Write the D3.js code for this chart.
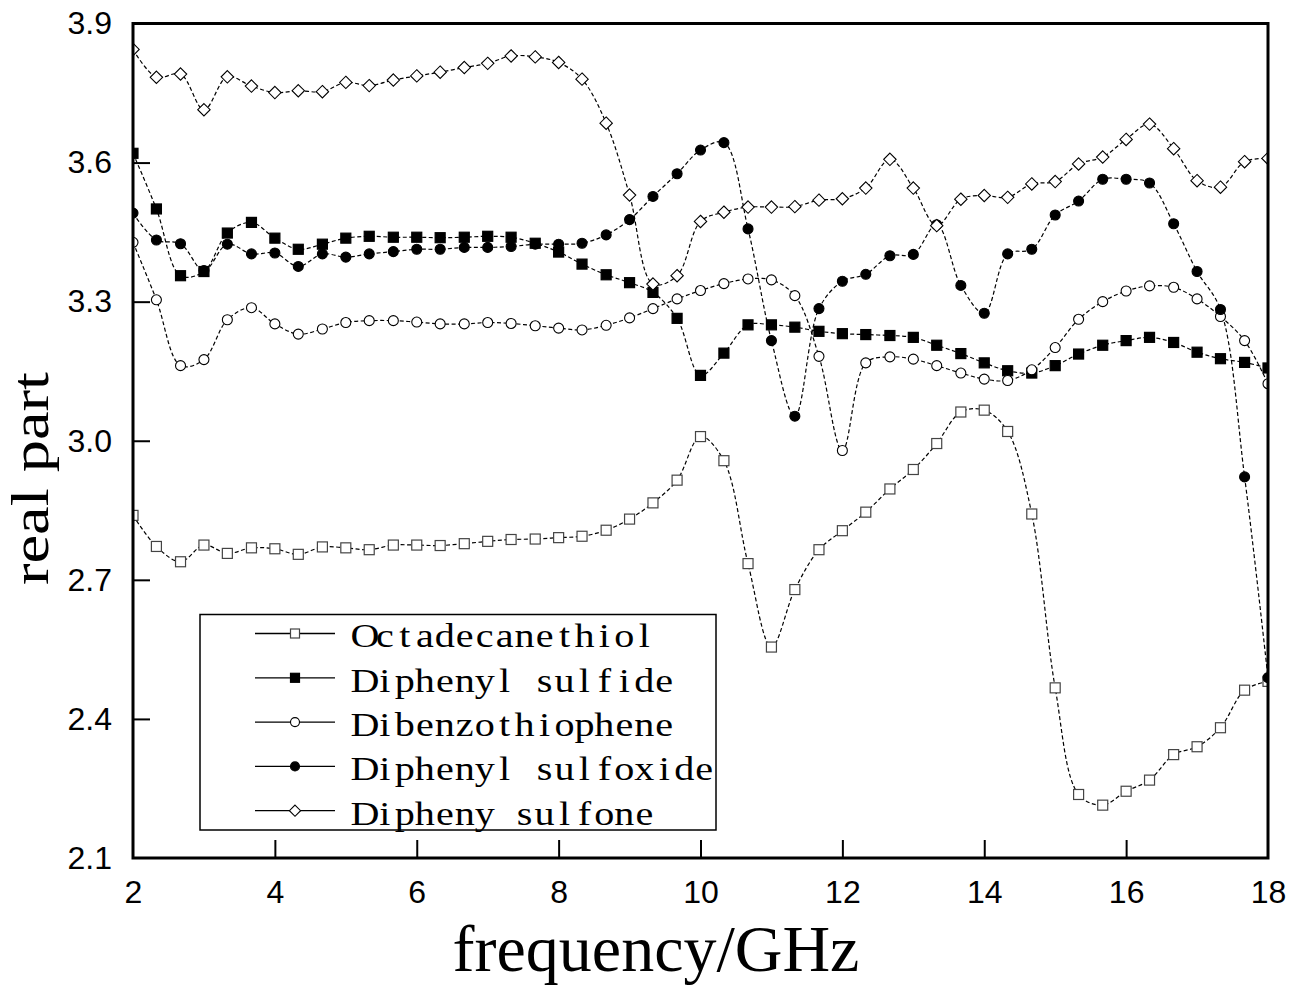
<!DOCTYPE html>
<html>
<head>
<meta charset="utf-8">
<script src="https://cdn.jsdelivr.net/npm/d3@7"></script>
<style>
  html, body { margin: 0; padding: 0; background: #fff; }
  svg { display: block; }
</style>
</head>
<body>
<svg id="chart" width="1302" height="986"></svg>
<script>
// ---------------- data ----------------
const freq = [2,2.33,2.67,3,3.33,3.67,4,4.33,4.67,5,5.33,5.67,6,6.33,6.67,7,7.33,7.67,8,8.33,8.67,9,9.33,9.67,10,10.33,10.67,11,11.33,11.67,12,12.33,12.67,13,13.33,13.67,14,14.33,14.67,15,15.33,15.67,16,16.33,16.67,17,17.33,17.67,18];

const octadecanethiol = [2.839,2.772,2.739,2.775,2.757,2.769,2.767,2.755,2.771,2.769,2.765,2.775,2.775,2.774,2.778,2.783,2.787,2.788,2.791,2.794,2.807,2.831,2.866,2.915,3.009,2.957,2.735,2.555,2.679,2.765,2.806,2.846,2.896,2.938,2.994,3.062,3.066,3.020,2.842,2.467,2.237,2.214,2.244,2.268,2.323,2.340,2.381,2.462,2.481];

const diphenylSulfide = [3.620,3.500,3.356,3.365,3.448,3.471,3.437,3.413,3.424,3.437,3.441,3.439,3.439,3.438,3.439,3.441,3.439,3.426,3.407,3.381,3.358,3.341,3.320,3.264,3.141,3.189,3.250,3.250,3.245,3.236,3.231,3.229,3.227,3.223,3.206,3.188,3.168,3.151,3.146,3.162,3.187,3.206,3.216,3.223,3.212,3.191,3.177,3.169,3.157];

const dibenzothiophene = [3.428,3.304,3.162,3.175,3.261,3.287,3.252,3.230,3.241,3.255,3.259,3.259,3.256,3.252,3.252,3.255,3.253,3.248,3.243,3.239,3.249,3.265,3.285,3.306,3.324,3.339,3.349,3.347,3.313,3.182,2.979,3.168,3.181,3.176,3.162,3.146,3.133,3.130,3.153,3.201,3.262,3.300,3.323,3.334,3.331,3.306,3.268,3.216,3.123];

const diphenylSulfoxide = [3.491,3.433,3.425,3.367,3.424,3.403,3.405,3.376,3.403,3.396,3.403,3.408,3.413,3.413,3.417,3.417,3.419,3.424,3.424,3.426,3.444,3.477,3.527,3.576,3.627,3.643,3.457,3.216,3.053,3.285,3.344,3.359,3.399,3.402,3.466,3.335,3.275,3.403,3.413,3.487,3.517,3.564,3.564,3.556,3.468,3.365,3.283,2.922,2.489];

const diphenySulfone = [3.844,3.784,3.791,3.714,3.785,3.765,3.751,3.755,3.753,3.773,3.766,3.778,3.787,3.795,3.805,3.814,3.830,3.828,3.816,3.780,3.685,3.530,3.338,3.356,3.473,3.493,3.504,3.504,3.505,3.519,3.522,3.545,3.607,3.545,3.464,3.521,3.529,3.525,3.554,3.559,3.597,3.612,3.650,3.683,3.630,3.561,3.547,3.602,3.609];

const seriesNames = ["Octadecanethiol","Diphenyl sulfide","Dibenzothiophene","Diphenyl sulfoxide","Dipheny sulfone"];
const seriesValues = [octadecanethiol, diphenylSulfide, dibenzothiophene, diphenylSulfoxide, diphenySulfone];
const seriesMarkers = ["squareOpen","squareFilled","circleOpen","circleFilled","diamondOpen"];

const xTicks = [2,4,6,8,10,12,14,16,18];
const yTicks = [2.1,2.4,2.7,3.0,3.3,3.6,3.9];
const xTitle = "frequency/GHz";
const yTitle = "real part";

// ---------------- layout ----------------
const svg = d3.select("#chart");
const L = 133, R = 1268, T = 23.5, B = 858;
const x = d3.scaleLinear().domain([2,18]).range([L,R]);
const y = d3.scaleLinear().domain([2.1,3.9]).range([B,T]);

svg.append("defs").append("clipPath").attr("id","plotclip")
  .append("rect").attr("x",L).attr("y",T).attr("width",R-L).attr("height",B-T);

// axes
const tickFont = "'Liberation Sans', Arial, sans-serif";
const xAxis = svg.append("g").attr("transform",`translate(0,${B})`)
  .call(d3.axisBottom(x).tickValues(xTicks).tickSize(-18).tickPadding(22).tickFormat(d3.format("d")));
const yAxis = svg.append("g").attr("transform",`translate(${L},0)`)
  .call(d3.axisLeft(y).tickValues(yTicks).tickSize(-17).tickPadding(21).tickFormat(d3.format(".1f")));
[xAxis, yAxis].forEach(g => {
  g.select(".domain").remove();
  g.selectAll(".tick line").attr("stroke","#000").attr("stroke-width",2);
  g.selectAll(".tick text").attr("fill","#000").style("font-family",tickFont).style("font-size","32px");
});
xAxis.selectAll(".tick").filter(d => d === 2 || d === 18).select("line").remove();
yAxis.selectAll(".tick").filter(d => d === 2.1 || d === 3.9).select("line").remove();

// series
const plot = svg.append("g").attr("clip-path","url(#plotclip)");
const line = d3.line().x(d => x(d[0])).y(d => y(d[1])).curve(d3.curveCatmullRom.alpha(0.5));

seriesValues.forEach((vals) => {
  const pts = freq.map((f,i) => [f, vals[i]]);
  plot.append("path").datum(pts)
    .attr("d", line)
    .attr("fill","none")
    .attr("stroke","#000")
    .attr("stroke-width",1.2)
    .attr("stroke-dasharray","4,2.5");
});

function drawMarker(g, type, cx, cy, s) {
  if (type === "squareOpen" || type === "squareFilled") {
    g.append("rect").attr("x",cx-s/2).attr("y",cy-s/2).attr("width",s).attr("height",s)
      .attr("fill", type === "squareFilled" ? "#000" : "#fff")
      .attr("stroke", type === "squareFilled" ? "#000" : "#444").attr("stroke-width",1.2);
  } else if (type === "circleOpen" || type === "circleFilled") {
    g.append("circle").attr("cx",cx).attr("cy",cy).attr("r",s/2)
      .attr("fill", type === "circleFilled" ? "#000" : "#fff")
      .attr("stroke","#000").attr("stroke-width",1.1);
  } else {
    const h = s*0.62;
    g.append("path").attr("d",`M${cx},${cy-h}L${cx+h},${cy}L${cx},${cy+h}L${cx-h},${cy}Z`)
      .attr("fill","#fff").attr("stroke","#000").attr("stroke-width",1.1);
  }
}

seriesValues.forEach((vals, si) => {
  const g = plot.append("g");
  freq.forEach((f,i) => drawMarker(g, seriesMarkers[si], x(f), y(vals[i]), 10));
});

// frame
svg.append("rect").attr("x",L).attr("y",T).attr("width",R-L).attr("height",B-T)
  .attr("fill","none").attr("stroke","#000").attr("stroke-width",3);

// legend
const lg = svg.append("g");
lg.append("rect").attr("x",200).attr("y",614.5).attr("width",516).attr("height",215.5)
  .attr("fill","#fff").attr("stroke","#000").attr("stroke-width",1.5);
const sx = 1.18; // horizontal glyph widening to mimic the tall monospaced legend font
seriesNames.forEach((name, i) => {
  const cy = 633.5 + i*44.3;
  lg.append("line").attr("x1",255).attr("x2",335).attr("y1",cy).attr("y2",cy)
    .attr("stroke","#000").attr("stroke-width",1.3);
  drawMarker(lg, seriesMarkers[i], 295, cy, 9);
  const chars = name.split("");
  lg.append("text")
    .attr("transform",`scale(${sx},1)`)
    .attr("x", chars.map((c,k) => (355 + 10 + k*19.95)/sx).join(" "))
    .attr("y", cy + 14)
    .attr("text-anchor","middle")
    .style("font-family","'Liberation Serif','Times New Roman',serif")
    .style("font-size","34px")
    .style("white-space","pre")
    .attr("fill","#000")
    .text(name);
});

// titles
svg.append("text").attr("x",656).attr("y",971).attr("text-anchor","middle")
  .style("font-family","'Liberation Serif','Times New Roman',serif").style("font-size","66px")
  .attr("fill","#000").text(xTitle);
svg.append("text").attr("transform","translate(48,478.5) rotate(-90)").attr("text-anchor","middle")
  .attr("textLength",213).attr("lengthAdjust","spacingAndGlyphs")
  .style("font-family","'Liberation Serif','Times New Roman',serif").style("font-size","52px")
  .attr("fill","#000").text(yTitle);
</script>
</body>
</html>
